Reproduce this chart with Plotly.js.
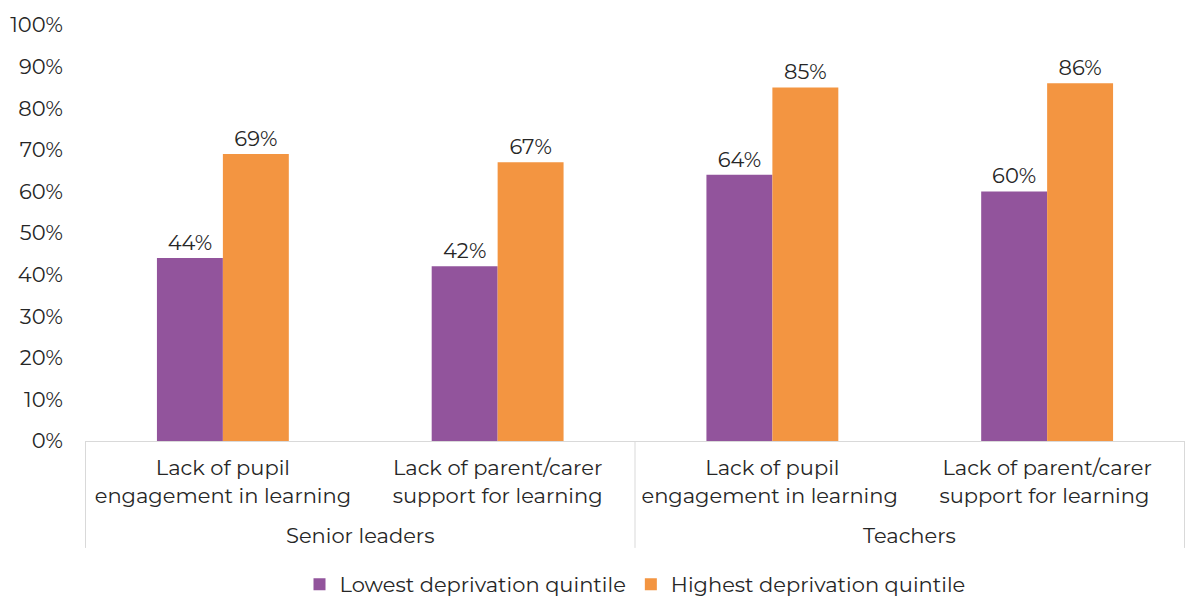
<!DOCTYPE html>
<html>
<head>
<meta charset="utf-8">
<script src="https://cdn.plot.ly/plotly-3.0.1.min.js"></script>
<style>html,body{margin:0;padding:0;background:#fff;}#chart{width:1186px;height:601px;}</style>
</head>
<body>
<div id="chart"></div>
<script>
var groupNames = ["Senior leaders", "Teachers"];
var categories = ["Lack of pupil<br>engagement in learning", "Lack of parent/carer<br>support for learning", "Lack of pupil<br>engagement in learning ", "Lack of parent/carer<br>support for learning "];
var lowest = [44, 42, 64, 60];
var highest = [69, 67, 85, 86];
var seriesNames = ["Lowest deprivation quintile", "Highest deprivation quintile"];
var yTicks = [0,10,20,30,40,50,60,70,80,90,100];

var font = "Montserrat, 'Noto Sans', 'DejaVu Sans', sans-serif";
var txt = "#262626";
function lab(v){ return v.map(function(d){return d + "%";}); }

var traces = [
  {type:"bar", name:seriesNames[0], x:categories, y:lowest, marker:{color:"#92549C"},
   text:lab(lowest), textposition:"outside", textfont:{size:21, color:txt, family:font}, cliponaxis:false},
  {type:"bar", name:seriesNames[1], x:categories, y:highest, marker:{color:"#F39541"},
   text:lab(highest), textposition:"outside", textfont:{size:21, color:txt, family:font}, cliponaxis:false}
];

var lineColor = "#d9d9d9";
var shapes = [-0.5, 1.5, 3.5].map(function(xv){
  return {type:"line", xref:"x", yref:"paper", x0:xv, x1:xv, y0:0, y1:-0.257,
          line:{color:lineColor, width:1}};
});
var annotations = groupNames.map(function(g, i){
  return {text:g, xref:"x", yref:"paper", x:0.5 + 2*i, y:-0.226, xanchor:"center", yanchor:"middle",
          showarrow:false, font:{size:21, color:txt, family:font}};
});

var layout = {
  width:1186, height:601,
  margin:{l:85, r:1, t:25, b:160, autoexpand:false},
  paper_bgcolor:"#fff", plot_bgcolor:"#fff",
  barmode:"group", bargap:0.52, bargroupgap:0,
  font:{family:font, color:txt, size:21},
  xaxis:{type:"category", automargin:false, showline:true, linecolor:lineColor, linewidth:1,
         tickfont:{size:21, color:txt}, ticks:"", showgrid:false, ticklabelstandoff:8},
  yaxis:{range:[0,100], automargin:false, tickvals:yTicks, ticktext:lab(yTicks), showgrid:false, zeroline:false,
         showline:false, ticks:"", tickfont:{size:21, color:txt}, ticklabelstandoff:21},
  legend:{orientation:"h", x:0.5, xanchor:"center", y:-0.345, yanchor:"middle",
          font:{size:21, color:txt}, traceorder:"normal"},
  shapes:shapes,
  annotations:annotations,
  showlegend:true
};
Plotly.newPlot("chart", traces, layout, {displayModeBar:false});
</script>
</body>
</html>
